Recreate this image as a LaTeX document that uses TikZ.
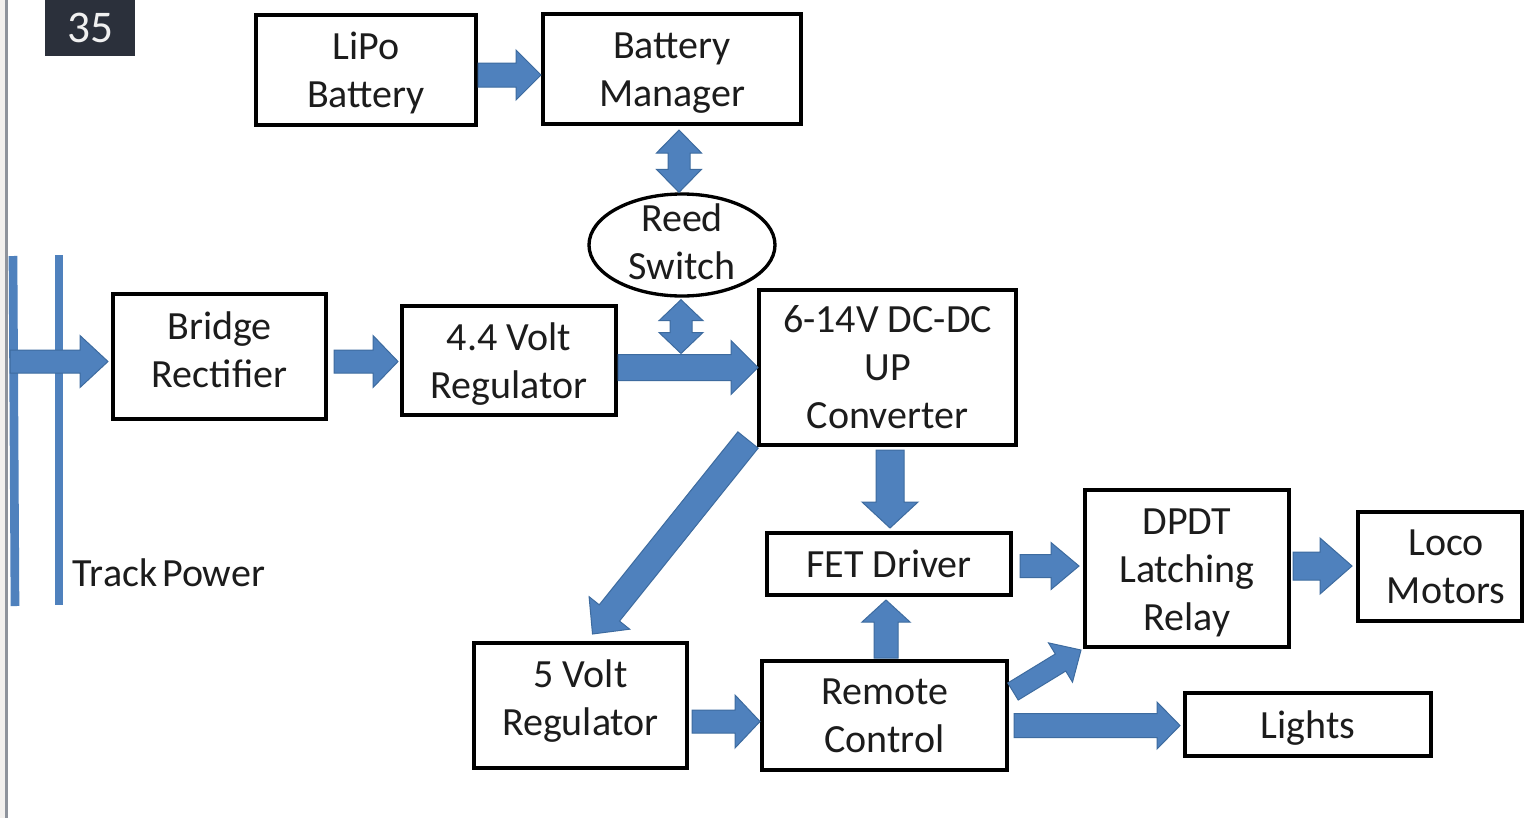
\documentclass[tikz,border=0pt]{standalone}
\usepackage{fontspec}
\setmainfont{Carlito}
\usetikzlibrary{calc,shapes.geometric}
\definecolor{arrowblue}{HTML}{4F81BD}
\definecolor{arrowedge}{HTML}{3D6B9F}
\definecolor{tagbg}{HTML}{2B303B}
\definecolor{txtcol}{HTML}{1C1C1C}
\definecolor{edgegray}{HTML}{8E939C}
\definecolor{edgelight}{HTML}{F2F0EE}
\newcommand{\blkarrow}[5]{%
  \coordinate (ba) at #1; \coordinate (bb) at #2;
  \coordinate (bh) at ($(bb)!#5*0.75pt!(ba)$);
  \filldraw[blk] ($(ba)!#3*0.75pt!90:(bb)$) -- ($(bh)!#3*0.75pt!-90:(ba)$) -- ($(bh)!#4*0.75pt!-90:(ba)$) -- (bb) -- ($(bh)!#4*0.75pt!90:(ba)$) -- ($(bh)!#3*0.75pt!90:(ba)$) -- ($(ba)!#3*0.75pt!-90:(bb)$) -- cycle;
}
\newcommand{\dblkarrow}[5]{%
  \coordinate (ba) at #1; \coordinate (bb) at #2;
  \coordinate (bh) at ($(bb)!#5*0.75pt!(ba)$);
  \coordinate (bt) at ($(ba)!#5*0.75pt!(bb)$);
  \filldraw[blk] (ba) -- ($(bt)!#4*0.75pt!90:(bb)$) -- ($(bt)!#3*0.75pt!90:(bb)$) -- ($(bh)!#3*0.75pt!-90:(ba)$) -- ($(bh)!#4*0.75pt!-90:(ba)$) -- (bb) -- ($(bh)!#4*0.75pt!90:(ba)$) -- ($(bh)!#3*0.75pt!90:(ba)$) -- ($(bt)!#3*0.75pt!-90:(bb)$) -- ($(bt)!#4*0.75pt!-90:(bb)$) -- cycle;
}
\tikzset{
  blk/.style={fill=arrowblue, draw=arrowedge, line width=0.75pt, line join=miter},
  txt/.style={align=center, text=txtcol, font={\fontsize{30}{36}\selectfont}},
  box/.style={draw=black, line width=3pt, fill=white, rectangle, inner sep=0pt},
  sz/.style 2 args={minimum width=#1*0.75pt, minimum height=#2*0.75pt},
  lbl/.style 2 args={label={[txt, yshift=#1]center:#2}},
  track/.style={draw=arrowblue, line width=6.5pt}
}
\begin{document}
\begin{tikzpicture}[x=0.75pt, y=-0.75pt]
\useasboundingbox (0,0) rectangle (1524,818);
\fill[white] (0,0) rectangle (1524,818);
\fill[edgelight] (0,0) rectangle (5,818);
\draw[edgegray, line width=2.25pt] (6.5,0) -- (6.5,818);
% tag
\node[fill=tagbg, text=white!94!black, sz={90}{56}, inner sep=0pt, font={\fontsize{34}{40}\selectfont}] (tag) at (90,28) {35};
% track
\draw[track] (13,256) -- (15,606);
\draw[track] (59,255) -- (59,605);
\node[txt, anchor=center, inner sep=0pt] (tp) at (169,573) {Track\hspace{0.12em}Power};
\coordinate (trackin) at (10,361.5);
% boxes
\node[box, sz={220}{110}, lbl={-2pt}{LiPo\\Battery}] (lipo) at (366,70) {};
\node[box, sz={258}{110}, lbl={-3.2pt}{Battery\\Manager}] (bm) at (672,69) {};
\node[draw=black, line width=2.5pt, fill=white, ellipse, sz={186}{102}, inner sep=0pt,
  lbl={2.5pt}{Reed\\Switch}] (reed) at (682,245) {};
\node[box, sz={213}{125}, lbl={5.25pt}{Bridge\\Rectifier}] (bridge) at (219.5,356.5) {};
\node[box, sz={214}{109}, lbl={-2.8pt}{4.4 Volt\\Regulator}] (reg44) at (509,360.5) {};
\node[box, sz={257}{155}, lbl={0pt}{6-14V DC-DC\\UP\\Converter}] (conv) at (887.5,367.5) {};
\node[box, sz={244}{62}, lbl={0pt}{FET Driver}] (fet) at (889,564) {};
\node[box, sz={204}{157}, lbl={-3pt}{DPDT\\Latching\\Relay}] (dpdt) at (1187,568.5) {};
\node[box, sz={164}{109}, lbl={0pt}{\hspace{0.3em}Loco\\\hspace{0.3em}Motors}] (loco) at (1440,566.5) {};
\node[box, sz={213}{125}, lbl={3pt}{5 Volt\\Regulator}] (reg5) at (580.5,705.5) {};
\node[box, sz={245}{109}, lbl={-0.5pt}{Remote\\Control}] (remote) at (884.5,715.5) {};
\node[box, sz={246}{63}, lbl={-2.5pt}{Lights}] (lights) at (1308,724.5) {};
% arrows
\blkarrow{($(lipo.east)+(0,5)$)}{($(bm.west)+(0,6)$)}{12}{25}{25}
\dblkarrow{($(bm.south)+(7,4)$)}{($(reed.north)+(-3,0)$)}{11}{22.5}{23}
\dblkarrow{($(reed.south)+(-1,2)$)}{($(reed.south |- conv.west)+(-1,-14)$)}{11}{22}{21}
\blkarrow{(trackin)}{($(bridge.west)+(-3,5)$)}{11.5}{26}{28}
\blkarrow{($(bridge.east)+(6,5)$)}{($(reg44.west)+(-2,1)$)}{11.5}{26}{25}
\blkarrow{(reg44.east |- conv.west)}{($(conv.west)+(1,0)$)}{13}{27}{27}
\blkarrow{($(conv.south west)+(-9,-7)$)}{($(reg5.north)+(12,-7)$)}{13}{26}{27}
\blkarrow{($(conv.south)+(2.5,3)$)}{($(fet.north)+(1,-3)$)}{14}{28}{26}
\blkarrow{($(remote.north)+(1.5,-1)$)}{($(fet.south)+(-3,3)$)}{12}{24}{22}
\blkarrow{($(fet.east)+(7,2)$)}{($(dpdt.west)+(-4,-2.5)$)}{11.5}{23.5}{28}
\blkarrow{($(dpdt.east)+(2,-2.5)$)}{($(loco.west)+(-4,-0.5)$)}{14}{28}{32}
\blkarrow{($(reg5.east)+(3,16)$)}{($(remote.west)+(0,6)$)}{11.5}{26.5}{25}
\blkarrow{($(remote.east)+(4,-24)$)}{($(dpdt.south west)+(-2,1)$)}{10}{23}{24}
\blkarrow{($(remote.east)+(5,10)$)}{($(lights.west)+(-3,1)$)}{12}{23.5}{23}
\end{tikzpicture}
\end{document}
